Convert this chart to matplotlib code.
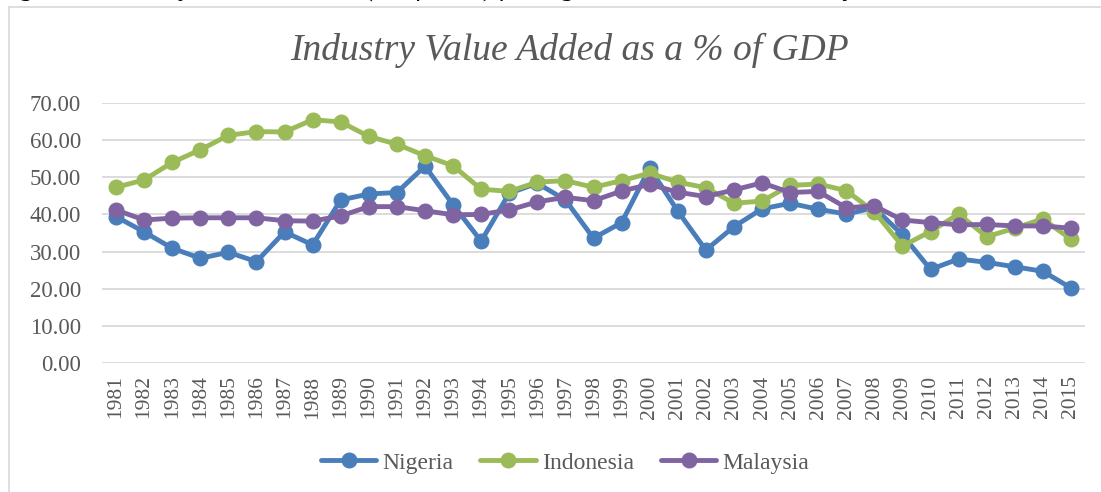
import matplotlib
matplotlib.use("Agg")
import matplotlib.pyplot as plt
from matplotlib.lines import Line2D

years = [str(y) for y in range(1981, 2016)]
nigeria = [39.4, 35.3, 30.9, 28.2, 29.8, 27.3, 35.3, 31.8, 43.9, 45.5, 45.9, 53.0,
           42.6, 32.8, 45.7, 48.4, 43.9, 33.6, 37.8, 52.5, 40.9, 30.4, 36.7, 41.5,
           43.0, 41.4, 40.1, 41.8, 34.5, 25.2, 28.0, 27.1, 25.9, 24.7, 20.2]
indonesia = [47.3, 49.3, 54.0, 57.4, 61.3, 62.3, 62.2, 65.5, 64.9, 61.0, 58.9, 55.8,
             53.1, 46.8, 46.2, 48.7, 49.1, 47.3, 49.1, 51.1, 48.7, 47.2, 43.0, 43.6,
             47.8, 48.2, 46.4, 40.7, 31.5, 35.4, 40.1, 34.0, 36.3, 38.8, 33.3]
malaysia = [41.2, 38.5, 39.0, 39.1, 39.1, 39.1, 38.3, 38.2, 39.6, 42.1, 42.1, 41.0,
            39.9, 40.0, 41.2, 43.4, 44.6, 43.7, 46.3, 48.1, 46.0, 44.8, 46.6, 48.5,
            45.9, 46.2, 41.8, 42.3, 38.5, 37.8, 37.2, 37.3, 36.9, 36.9, 36.3]
series_names = ["Nigeria", "Indonesia", "Malaysia"]
colors = ["#4A7EBB", "#9BBB59", "#8064A2"]
yticks = [0, 10, 20, 30, 40, 50, 60, 70]

W, H = 1101, 492
fig = plt.figure(figsize=(W / 100, H / 100), dpi=100)
plt.rcParams['font.family'] = ['Liberation Serif', 'DejaVu Serif']

ax = fig.add_axes([102 / W, 1 - 363 / H, 983 / W, 260 / H])
x = list(range(len(years)))
for vals, name, c in zip([nigeria, indonesia, malaysia], series_names, colors):
    ax.plot(x, vals, color=c, lw=3.5, marker='o', ms=10.5, label=name,
            solid_capstyle='round', solid_joinstyle='round')

ax.set_xlim(-0.5, len(years) - 0.5)
ax.set_ylim(0, 70)
ax.set_yticks(yticks)
ax.set_yticklabels([f"{v:.2f}" for v in yticks])
ax.set_xticks(x)
ax.set_xticklabels(years, rotation=90)
ax.tick_params(axis='both', length=0, labelcolor='#595959')
ax.tick_params(axis='y', pad=15, labelsize=16.5)
ax.tick_params(axis='x', pad=9, labelsize=15.5)
ax.grid(axis='y', color='#D9D9D9', lw=1.3)
ax.set_axisbelow(True)
for s in ax.spines.values():
    s.set_visible(False)

fig.text(569 / W, 1 - 50 / H, "Industry Value Added as a % of GDP", ha='center',
         va='center', fontsize=27, style='italic', color='#595959')

leg = fig.legend(loc='center', bbox_to_anchor=(565 / W, 1 - 463 / H), ncol=3,
                 frameon=False, fontsize=17, handlelength=2.35, columnspacing=1.15,
                 handletextpad=0.25)
for t in leg.get_texts():
    t.set_color('#595959')

# figure border (chart area)
fig.add_artist(Line2D([9 / W, 9 / W], [0, 1 - 7 / H], color='#D9D9D9', lw=1.2,
                      transform=fig.transFigure))
fig.add_artist(Line2D([9 / W, 1], [1 - 7 / H, 1 - 7 / H], color='#D9D9D9', lw=1.2,
                      transform=fig.transFigure))

# clipped caption above chart
fig.text(-2 / W, 1 + 4 / H,
         "Figure 4: Industry Value added as (% of GDP) for Nigeria, Indonesia and Malaysia, 1981-2015",
         ha='left', va='baseline', fontsize=19, style='italic', color='black')

fig.savefig("out.png", dpi=100)
